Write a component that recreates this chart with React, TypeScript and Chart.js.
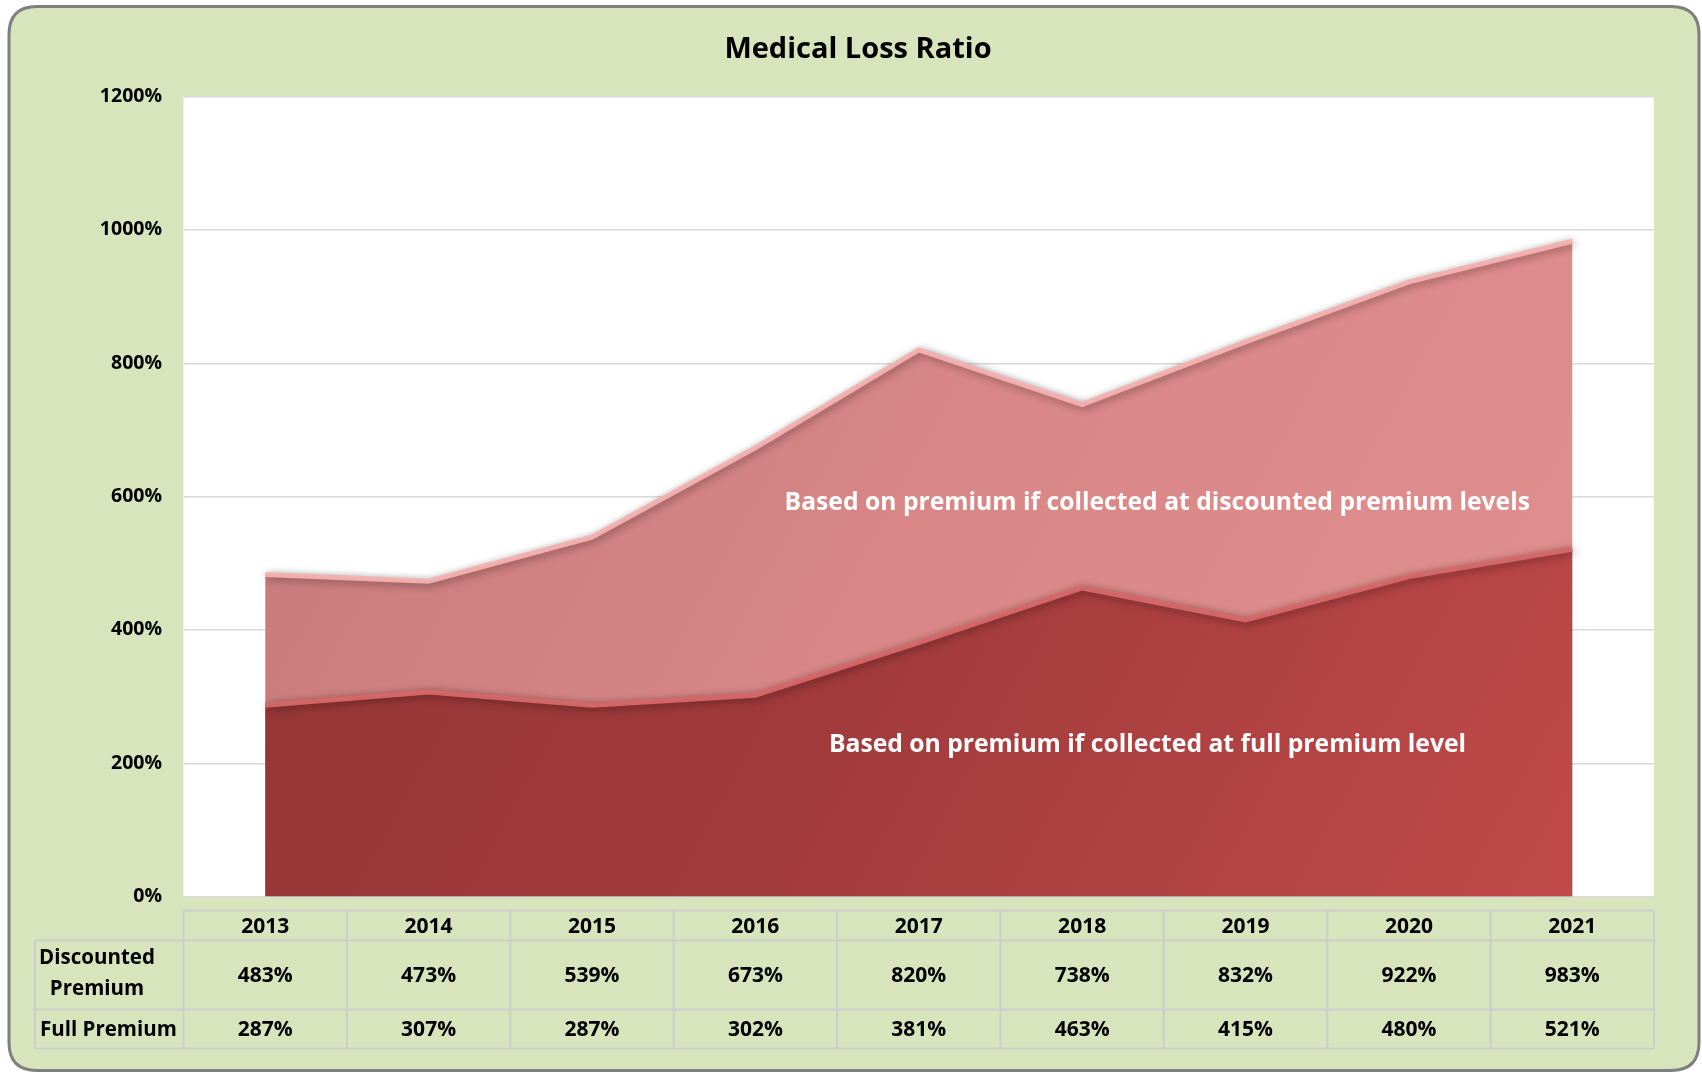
import React, { useEffect, useRef } from "react";
import { Chart, registerables } from "chart.js";

Chart.register(...registerables);

const TITLE = "Medical Loss Ratio";
const years = ["2013", "2014", "2015", "2016", "2017", "2018", "2019", "2020", "2021"];
const discountedPremium = [483, 473, 539, 673, 820, 738, 832, 922, 983];
const fullPremium = [287, 307, 287, 302, 381, 463, 415, 480, 521];
const rowLabelDiscounted = ["Discounted", "Premium"];
const rowLabelFull = "Full Premium";
const noteDiscounted = "Based on premium if collected at discounted premium levels";
const noteFull = "Based on premium if collected at full premium level";
const yTicks = [0, 200, 400, 600, 800, 1000, 1200];

const FONT = "'Open Sans', Lato, sans-serif";
const GREEN = "#D8E4BC";

function roundRect(ctx: CanvasRenderingContext2D, x: number, y: number, w: number, h: number, r: number) {
  ctx.beginPath();
  ctx.moveTo(x + r, y);
  ctx.lineTo(x + w - r, y);
  ctx.quadraticCurveTo(x + w, y, x + w, y + r);
  ctx.lineTo(x + w, y + h - r);
  ctx.quadraticCurveTo(x + w, y + h, x + w - r, y + h);
  ctx.lineTo(x + r, y + h);
  ctx.quadraticCurveTo(x, y + h, x, y + h - r);
  ctx.lineTo(x, y + r);
  ctx.quadraticCurveTo(x, y, x + r, y);
  ctx.closePath();
}

const framePlugin = {
  id: "frame",
  beforeDraw(chart: any) {
    const { ctx, chartArea } = chart;
    ctx.save();
    ctx.fillStyle = "#ffffff";
    ctx.fillRect(0, 0, chart.width, chart.height);
    roundRect(ctx, 9, 6.5, 1690, 1064, 28);
    ctx.fillStyle = GREEN;
    ctx.fill();
    ctx.lineWidth = 3;
    ctx.strokeStyle = "#7F7F7F";
    ctx.stroke();
    ctx.fillStyle = "#ffffff";
    ctx.fillRect(chartArea.left, chartArea.top, chartArea.right - chartArea.left, chartArea.bottom - chartArea.top);
    ctx.fillStyle = "#000000";
    ctx.font = `bold 29px ${FONT}`;
    ctx.textAlign = "center";
    ctx.textBaseline = "middle";
    ctx.fillText(TITLE, 858, 50);
    ctx.restore();
  },
};

const shadowPlugin = {
  id: "areaShadow",
  beforeDatasetsDraw(chart: any) {
    const ctx = chart.ctx;
    ctx.save();
    ctx.shadowColor = "rgba(0,0,0,0.4)";
    ctx.shadowBlur = 8;
    ctx.shadowOffsetX = 2;
    ctx.shadowOffsetY = 2;
  },
  afterDatasetsDraw(chart: any) {
    const { ctx, scales } = chart;
    ctx.restore();
    const x = scales.x;
    const y = scales.y;
    ctx.save();
    ctx.fillStyle = "#ffffff";
    ctx.font = `bold 24.7px ${FONT}`;
    ctx.textAlign = "center";
    ctx.textBaseline = "middle";
    ctx.fillText(noteDiscounted, x.getPixelForValue(5.46), y.getPixelForValue(591));
    ctx.fillText(noteFull, x.getPixelForValue(5.4), y.getPixelForValue(228));
    ctx.restore();
  },
};

const tablePlugin = {
  id: "dataTable",
  afterDraw(chart: any) {
    const { ctx, scales, chartArea } = chart;
    const x = scales.x;
    const step = x.getPixelForValue(1) - x.getPixelForValue(0);
    const half = step / 2;
    const b = chartArea.bottom;
    const r0 = b + 14;
    const r1 = b + 44;
    const r2 = b + 113;
    const r3 = b + 152;
    const leftCol = 35;
    const left = chartArea.left;
    const right = x.getPixelForValue(years.length - 1) + half;
    ctx.save();
    ctx.strokeStyle = "#CDCDCD";
    ctx.lineWidth = 2;
    ctx.beginPath();
    ctx.moveTo(left, r0); ctx.lineTo(right, r0);
    ctx.moveTo(leftCol, r1); ctx.lineTo(right, r1);
    ctx.moveTo(leftCol, r2); ctx.lineTo(right, r2);
    ctx.moveTo(leftCol, r3); ctx.lineTo(right, r3);
    ctx.moveTo(leftCol, r1); ctx.lineTo(leftCol, r3);
    for (let i = 0; i <= years.length; i++) {
      const xx = x.getPixelForValue(0) - half + i * step;
      ctx.moveTo(xx, r0); ctx.lineTo(xx, r3);
    }
    ctx.stroke();

    ctx.fillStyle = "#000000";
    ctx.font = `bold 21px ${FONT}`;
    ctx.textBaseline = "middle";
    ctx.textAlign = "center";
    years.forEach((yr, i) => {
      const cx = x.getPixelForValue(i);
      ctx.fillText(yr, cx, (r0 + r1) / 2 + 1);
      ctx.fillText(discountedPremium[i] + "%", cx, (r1 + r2) / 2 + 1);
      ctx.fillText(fullPremium[i] + "%", cx, (r2 + r3) / 2 + 1);
    });
    ctx.font = `bold 20.5px ${FONT}`;
    ctx.fillText(rowLabelDiscounted[0], 97, r1 + 18);
    ctx.fillText(rowLabelDiscounted[1], 97, r1 + 49);
    ctx.textAlign = "left";
    ctx.fillText(rowLabelFull, 40, (r2 + r3) / 2 + 1);
    ctx.restore();
  },
};

function hGradient(ctx: any, stops: string[]) {
  const chart = ctx.chart;
  const area = chart.chartArea;
  if (!area) return stops[0];
  const g = chart.ctx.createLinearGradient(area.left, area.top, area.right, area.bottom);
  stops.forEach((c, i) => g.addColorStop(i / (stops.length - 1), c));
  return g;
}

export default function App() {
  const ref = useRef<HTMLCanvasElement>(null);
  useEffect(() => {
    if (!ref.current) return;
    Chart.defaults.font.family = FONT;
    const chart = new Chart(ref.current, {
      type: "line",
      data: {
        labels: years,
        datasets: [
          {
            label: "Full Premium",
            data: fullPremium,
            order: 1,
            fill: "origin",
            tension: 0,
            pointRadius: 0,
            borderWidth: 5,
            borderColor: "rgba(214,104,104,0.95)",
            backgroundColor: (c: any) => hGradient(c, ["#913434", "#A03A3B", "#C44B4B"]),
          },
          {
            label: "Discounted Premium",
            data: discountedPremium,
            order: 2,
            fill: "origin",
            tension: 0,
            pointRadius: 0,
            borderWidth: 5,
            borderColor: "rgba(244,176,176,0.95)",
            backgroundColor: (c: any) => hGradient(c, ["#C27777", "#D88686", "#E39090"]),
          },
        ],
      },
      options: {
        animation: false,
        responsive: true,
        maintainAspectRatio: false,
        layout: { padding: { left: 0, top: 96.6, right: 48, bottom: 177.4 } },
        plugins: {
          legend: { display: false },
          tooltip: { enabled: false },
          title: { display: false },
        },
        scales: {
          x: {
            type: "category",
            offset: true,
            display: false,
            grid: { display: false },
          },
          y: {
            min: 0,
            max: 1200,
            afterFit: (s: any) => {
              s.width = 183.5;
            },
            afterBuildTicks: (s: any) => {
              s.ticks = yTicks.map((v) => ({ value: v }));
            },
            border: { display: false },
            grid: { color: "#D9D9D9", lineWidth: 1.5, drawTicks: false },
            ticks: {
              padding: 21.5,
              color: "#000000",
              font: { size: 19.5, weight: "bold", family: FONT },
              callback: (v: any) => v + "%",
            },
          },
        },
      },
      plugins: [framePlugin, shadowPlugin, tablePlugin],
    } as any);
    return () => chart.destroy();
  }, []);
  return (
    <div style={{ position: "fixed", left: 0, top: 0, width: 1702, height: 1074 }}>
      <canvas ref={ref} style={{ width: "100%", height: "100%" }} />
    </div>
  );
}
